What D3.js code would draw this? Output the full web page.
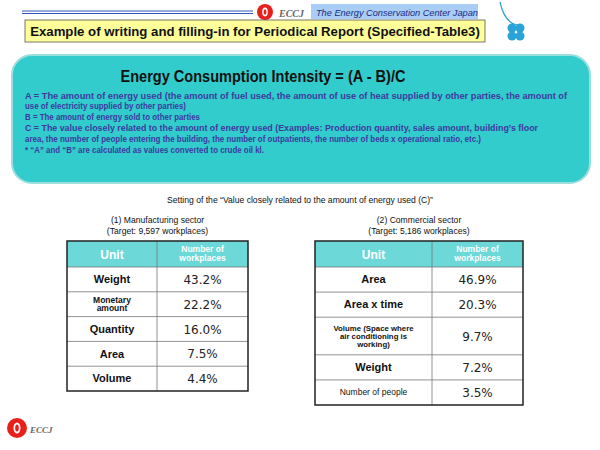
<!DOCTYPE html><html><head><meta charset="utf-8">
<script src="https://cdn.jsdelivr.net/npm/d3@7"></script>
<style>body{margin:0;background:#fff}</style></head><body>
<svg id="s" width="600" height="450"></svg>
<script>
const mfgUnits=["Weight","Monetary amount","Quantity","Area","Volume"];
const mfgValues=[43.2,22.2,16.0,7.5,4.4];
const comUnits=["Area","Area x time","Volume (Space where air conditioning is working)","Weight","Number of people"];
const comValues=[46.9,20.3,9.7,7.2,3.5];
const comRowWeights=[1,1,1.5,1,1];
const mfgRowWeights=[1,1,1,1,1];

const svg=d3.select("#s");
const F="Liberation Sans, Arial, sans-serif";
[11,13.5].forEach(y=>svg.append("line").attr("x1",22).attr("x2",253).attr("y1",y).attr("y2",y).attr("stroke","#3355bb").attr("stroke-width",1.2));
function logo(x,y,r){
 const g=svg.append("g").attr("transform",`translate(${x},${y})`);
 g.append("circle").attr("r",r).attr("fill","#e8201c");
 g.append("ellipse").attr("rx",r*0.35).attr("ry",r*0.55).attr("fill","#fff");
 g.append("ellipse").attr("rx",r*0.18).attr("ry",r*0.35).attr("fill","#e8201c");
}
logo(265,12,8);
svg.append("text").attr("x",279).attr("y",17).text("ECCJ").attr("font-family","Liberation Serif, serif").attr("font-style","italic").attr("font-weight","bold").attr("font-size",10).attr("fill","#666");
svg.append("rect").attr("x",311).attr("y",4).attr("width",167).attr("height",15).attr("fill","#a9cdf5");
svg.append("text").attr("x",316).attr("y",15.5).text("The Energy Conservation Center Japan").attr("font-family",F).attr("font-style","italic").attr("font-size",9.2).attr("fill","#1a2a80");
svg.append("rect").attr("x",25).attr("y",20).attr("width",460).attr("height",22).attr("fill","#ffff99").attr("stroke","#555").attr("stroke-width",0.8);
svg.append("text").attr("x",255).attr("y",36).attr("text-anchor","middle").text("Example of writing and filling-in for Periodical Report (Specified-Table3)").attr("font-family",F).attr("font-weight","bold").attr("font-size",13.2).attr("fill","#111");
svg.append("path").attr("d","M500,2 Q505,25 520,25").attr("fill","none").attr("stroke","#2aa0d0").attr("stroke-width",1.2);
[[-4,-4],[4,-4],[-4,4],[4,4]].forEach(([dx,dy])=>svg.append("circle").attr("cx",516+dx).attr("cy",32+dy).attr("r",4.5).attr("fill","#29a3d8"));
svg.append("rect").attr("x",12).attr("y",55).attr("width",578).attr("height",128).attr("rx",20).attr("fill","#33cccc").attr("stroke","#9adede").attr("stroke-width",2);
svg.append("text").attr("x",263).attr("y",82).attr("text-anchor","middle").text("Energy Consumption Intensity = (A - B)/C").attr("font-family",F).attr("font-weight","bold").attr("font-size",17).attr("fill","#111").attr("textLength",285).attr("lengthAdjust","spacingAndGlyphs");
const lines=["A = The amount of energy used (the amount of fuel used, the amount of use of heat supplied by other parties, the amount of","use of electricity supplied by other parties)","B = The amount of energy sold to other parties","C = The value closely related to the amount of energy used (Examples: Production quantity, sales amount, building’s floor","area, the number of people entering the building, the number of outpatients, the number of beds x operational ratio, etc.)","* “A” and “B” are calculated as values converted to crude oil kl."];
const lens=[542,161,175,513,456,239];
lines.forEach((t,i)=>svg.append("text").attr("x",25).attr("y",98.5+i*10.9).text(t).attr("font-family",F).attr("font-weight","bold").attr("font-size",8.6).attr("fill","#3b3aa0").attr("textLength",lens[i]).attr("lengthAdjust","spacingAndGlyphs"));
svg.append("text").attr("x",300).attr("y",203).attr("text-anchor","middle").text("Setting of the “Value closely related to the amount of energy used (C)”").attr("font-family",F).attr("font-size",8.6).attr("fill","#111");

function table(x0,x1,xs,y0,y1,units,vals,weights,title1,title2){
 const cx=(x0+x1)/2;
 svg.append("text").attr("x",cx).attr("y",223).attr("text-anchor","middle").text(title1).attr("font-family",F).attr("font-size",8.6).attr("fill","#111");
 svg.append("text").attr("x",cx).attr("y",234).attr("text-anchor","middle").text(title2).attr("font-family",F).attr("font-size",8.6).attr("fill","#111");
 const cum=[0];weights.forEach(w=>cum.push(cum[cum.length-1]+w));
 const hdr=26;
 const y=d3.scaleLinear().domain([0,cum[cum.length-1]]).range([y0+hdr,y1]);
 svg.append("rect").attr("x",x0).attr("y",y0).attr("width",x1-x0).attr("height",hdr).attr("fill","#6dd8d8");
 svg.append("text").attr("x",(x0+xs)/2).attr("y",y0+18).attr("text-anchor","middle").text("Unit").attr("font-family",F).attr("font-weight","bold").attr("font-size",12).attr("fill","#fff");
 svg.append("text").attr("x",(xs+x1)/2).attr("y",y0+11).attr("text-anchor","middle").text("Number of").attr("font-family",F).attr("font-weight","bold").attr("font-size",8.5).attr("fill","#fff");
 svg.append("text").attr("x",(xs+x1)/2).attr("y",y0+20).attr("text-anchor","middle").text("workplaces").attr("font-family",F).attr("font-weight","bold").attr("font-size",8.5).attr("fill","#fff");
 units.forEach((u,i)=>{
  const ya=y(cum[i]),yb=y(cum[i+1]),ym=(ya+yb)/2;
  svg.append("line").attr("x1",x0).attr("x2",x1).attr("y1",ya).attr("y2",ya).attr("stroke","#777").attr("stroke-width",0.8);
  let parts, fs=11, bold=true;
  if(u==="Monetary amount"){parts=["Monetary","amount"];fs=8.5;}
  else if(u.startsWith("Volume (")){parts=["Volume (Space where","air conditioning is","working)"];fs=7.8;}
  else parts=[u];
  if(u==="Number of people"){fs=8.5;bold=false;}
  const lh=fs*1.0;
  parts.forEach((p,j)=>svg.append("text").attr("x",(x0+xs)/2).attr("y",ym+fs*0.35+(j-(parts.length-1)/2)*lh).attr("text-anchor","middle").text(p).attr("font-family",F).attr("font-weight",bold?"bold":"normal").attr("font-size",fs).attr("fill","#111"));
  svg.append("text").attr("x",(xs+x1)/2).attr("y",ym+4.5).attr("text-anchor","middle").text(vals[i].toFixed(1)+"%").attr("font-family","DejaVu Sans, sans-serif").attr("font-size",12).attr("fill","#222");
 });
 svg.append("line").attr("x1",xs).attr("x2",xs).attr("y1",y0).attr("y2",y1).attr("stroke","#777").attr("stroke-width",0.8);
 svg.append("rect").attr("x",x0).attr("y",y0).attr("width",x1-x0).attr("height",y1-y0).attr("fill","none").attr("stroke","#222").attr("stroke-width",1.5);
}
table(67,248,157,241,391,mfgUnits,mfgValues,mfgRowWeights,"(1) Manufacturing sector","(Target: 9,597 workplaces)");
table(315,523,432,241,405,comUnits,comValues,comRowWeights,"(2) Commercial sector","(Target: 5,186 workplaces)");
logo(17,428,10);
svg.append("text").attr("x",30).attr("y",433).text("ECCJ").attr("font-family","Liberation Serif, serif").attr("font-style","italic").attr("font-weight","bold").attr("font-size",9).attr("fill","#666");
</script></body></html>
